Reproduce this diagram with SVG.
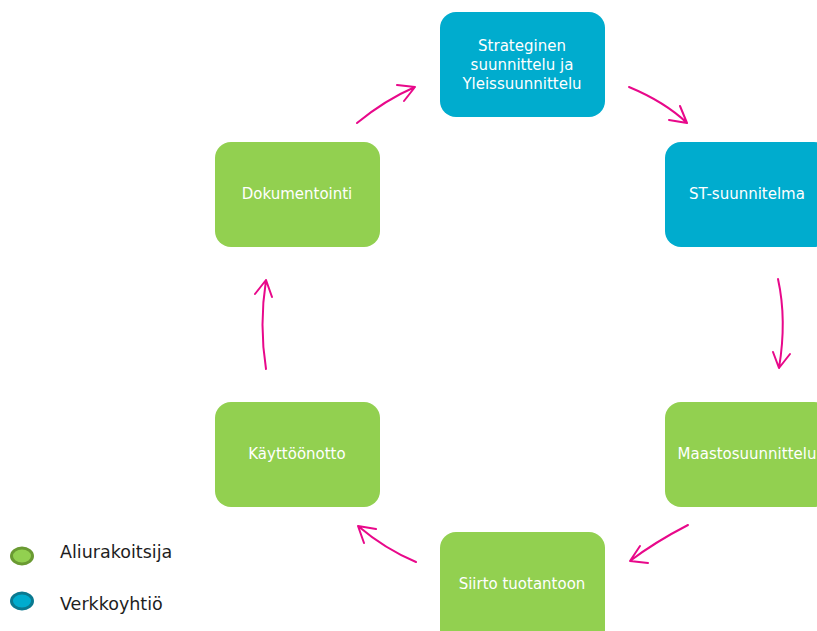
<svg xmlns="http://www.w3.org/2000/svg" width="817" height="631" viewBox="0 0 817 631">
<style>
.blue{fill:#00acce}
.green{fill:#92d050}
.lbl{font-family:"DejaVu Sans",Verdana,sans-serif;font-size:15px;fill:#ffffff;text-anchor:middle}
.con{fill:none;stroke:#e8088a;stroke-width:2;stroke-linecap:round;stroke-linejoin:round}
.leg{font-family:"DejaVu Sans",Verdana,sans-serif;font-size:17.5px;fill:#1e1e1e}
</style>
<rect width="817" height="631" fill="#ffffff"/>
<g id="node-strateginen">
<rect class="blue" x="440" y="12" width="165" height="105" rx="16"/>
<text class="lbl" x="522" y="51">Strateginen</text>
<text class="lbl" x="522" y="70">suunnittelu ja</text>
<text class="lbl" x="522" y="89">Yleissuunnittelu</text>
</g>
<g id="node-st">
<rect class="blue" x="665" y="142" width="165" height="105" rx="16"/>
<text class="lbl" x="747" y="199">ST-suunnitelma</text>
</g>
<g id="node-maasto">
<rect class="green" x="665" y="402" width="165" height="105" rx="16"/>
<text class="lbl" x="747" y="459">Maastosuunnittelu</text>
</g>
<g id="node-siirto">
<rect class="green" x="440" y="532" width="165" height="115" rx="16"/>
<text class="lbl" x="522" y="589">Siirto tuotantoon</text>
</g>
<g id="node-kaytto">
<rect class="green" x="215" y="402" width="165" height="105" rx="16"/>
<text class="lbl" x="297" y="459">Käyttöönotto</text>
</g>
<g id="node-dok">
<rect class="green" x="215" y="142" width="165" height="105" rx="16"/>
<text class="lbl" x="297" y="199">Dokumentointi</text>
</g>
<g id="connectors">
<path class="con" d="M357,123 Q385,100 415,87 M397,85 L415,87 L404,101"/>
<path class="con" d="M629,87 Q665,102 687,123 M669,120 L687,123 L680,106"/>
<path class="con" d="M778,279 Q787,320 779,368 M773,352 L779,368 L790,354"/>
<path class="con" d="M688,525 Q655,542 630,561 M640,546 L630,561 L648,563"/>
<path class="con" d="M416,562 Q385,549 358,526 M376,529 L358,526 L364,543"/>
<path class="con" d="M266,369 Q259,325 266,280 M255,294 L266,280 L272,297"/>
</g>
<g id="legend">
<ellipse cx="22" cy="556" rx="10.5" ry="8" fill="#92d050" stroke="#6a9a32" stroke-width="3"/>
<text class="leg" x="60" y="558">Aliurakoitsija</text>
<ellipse cx="22" cy="601" rx="10.5" ry="8" fill="#00acce" stroke="#0a7990" stroke-width="3"/>
<text class="leg" x="60" y="610">Verkkoyhtiö</text>
</g>
</svg>
